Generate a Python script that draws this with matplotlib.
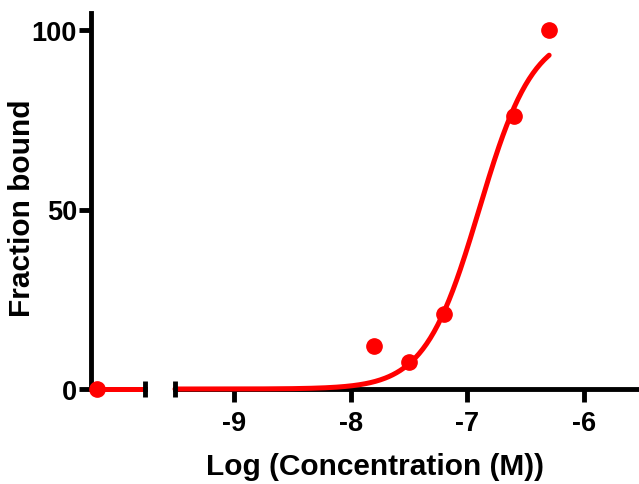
import matplotlib
matplotlib.use("Agg")
import matplotlib.pyplot as plt
import numpy as np

plt.rcParams["font.family"] = ["Liberation Sans", "DejaVu Sans"]
plt.rcParams["font.weight"] = "bold"

# data
log_conc = [-7.8, -7.5, -7.2, -6.6, -6.3]
fraction_bound = [12, 7.5, 21, 76, 100]
zero_conc_pos = -10.5   # where the zero-concentration point sits on the left segment
zero_conc_value = 0

# sigmoidal fit (Prism style), parameters estimated from the drawn curve
log_ec50 = -6.9
hill_slope = 1.87
bottom, top = 0, 100

red = "#ff0000"
fs = 19.5
label_fs = 21.5


def fit_curve(x):
    return bottom + (top - bottom) / (1 + 10 ** ((log_ec50 - x) * hill_slope))


fig = plt.figure(figsize=(6.39, 4.85), dpi=100)
W, H = 639, 485
y_bot, y_top = 390, 14
ax1 = fig.add_axes([91 / W, (H - y_bot) / H, (145 - 91) / W, (y_bot - y_top) / H])
ax2 = fig.add_axes([175 / W, (H - y_bot) / H, (639 - 175) / W, (y_bot - y_top) / H], sharey=ax1)

ymax = (y_bot - y_top) / 3.59
ax1.set_ylim(0, ymax)
ax1.set_xlim(-10.555, -10.09)
ax2.set_xlim(-9.506, -5.53)

for ax in (ax1, ax2):
    for s in ["top", "right"]:
        ax.spines[s].set_visible(False)
    for s in ["left", "bottom"]:
        ax.spines[s].set_linewidth(3.5)
        ax.spines[s].set_zorder(1)
    ax.tick_params(width=3.5, length=9, labelsize=fs, pad=3)
    ax.patch.set_alpha(0)

ax2.spines["left"].set_visible(False)
ax2.tick_params(axis="y", left=False, labelleft=False)
ax1.set_xticks([])
ax1.set_yticks([0, 50, 100])
ax1.tick_params(axis="y", pad=1)
ax2.set_xticks([-9, -8, -7, -6])
ax2.set_xticklabels(["-9", "-8", "-7", "-6"])
ax2.tick_params(axis="x", pad=6)

# break marks on the x axis
ax1.plot([1], [0], transform=ax1.transAxes, marker="|", markersize=12, mew=3.5,
         color="black", clip_on=False, zorder=4)
ax2.plot([0], [0], transform=ax2.transAxes, marker="|", markersize=12, mew=3.5,
         color="black", clip_on=False, zorder=4)

# fitted curve on both segments
x_left = np.linspace(zero_conc_pos, -10.09, 50)
ax1.plot(x_left, fit_curve(x_left), color=red, lw=3.6, clip_on=False, zorder=3,
         solid_capstyle="round")
x_right = np.linspace(-9.506, max(log_conc), 300)
ax2.plot(x_right, fit_curve(x_right), color=red, lw=3.6, clip_on=False, zorder=3,
         solid_capstyle="round")

# data points
ax1.plot([zero_conc_pos], [zero_conc_value], "o", color=red, markersize=11,
         clip_on=False, zorder=5)
ax2.plot(log_conc, fraction_bound, "o", color=red, markersize=11,
         clip_on=False, zorder=5)

for lbl in ax1.get_yticklabels() + ax2.get_xticklabels():
    lbl.set_fontweight("bold")

fig.text(22 / W, 1 - 208 / H, "Fraction bound", rotation=90, ha="center", va="center",
         fontsize=label_fs, fontweight="bold")
fig.text(375 / W, 1 - 467 / H, "Log (Concentration (M))", ha="center", va="center",
         fontsize=label_fs, fontweight="bold")

fig.savefig("out.png", dpi=100)
